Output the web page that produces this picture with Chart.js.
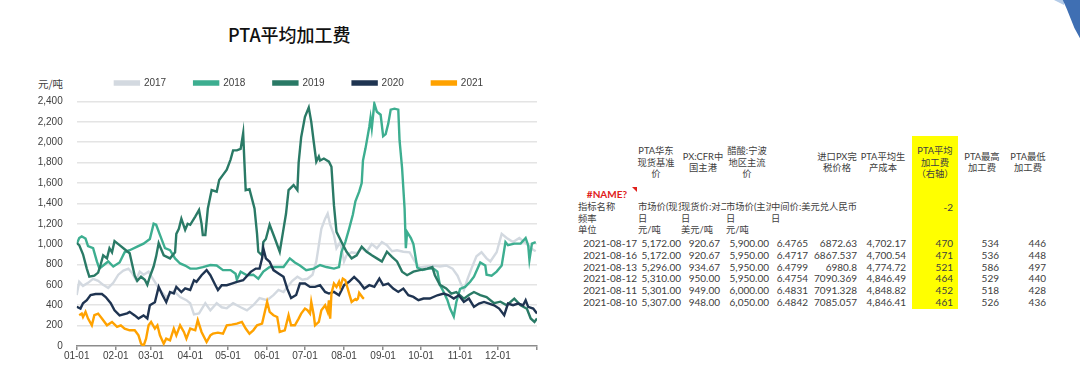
<!DOCTYPE html>
<html>
<head>
<meta charset="utf-8">
<script src="https://cdn.jsdelivr.net/npm/chart.js@4.4.1/dist/chart.umd.min.js"></script>
<style>
  body { margin: 0; width: 1080px; height: 369px; overflow: hidden; position: relative; background: #fff;
         font-family: Lato, "Noto Sans CJK SC", sans-serif; }
  #chart { position: absolute; left: 0; top: 0; }
  .title { position: absolute; left: 228px; top: 23px; font: 500 18px "Noto Sans CJK SC", sans-serif; color: #111; line-height: 22px; }
  .unit { position: absolute; left: 38px; top: 77px; font: 10.5px "Noto Sans CJK SC", sans-serif; color: #404040; line-height: 14px; }
  .c { position: absolute; white-space: nowrap; font-size: 10px; line-height: 12px; color: #404040;
       font-family: Lato, "Noto Sans CJK SC", sans-serif; }
  .h { font-size: 9.3px; }
  .clip { overflow: hidden; }
  .hl { position: absolute; left: 912px; top: 136px; width: 46px; height: 173px; background: #ffff00; }
  .err { color: #e0201b; font-weight: bold; }
  .mark { position: absolute; left: 632px; top: 187px; width: 0; height: 0;
          border-top: 5px solid #e0201b; border-left: 5px solid transparent; }
  .corner { position: absolute; left: 1040px; top: 0; width: 40px; height: 45px; background: #3f6fb3;
            clip-path: polygon(57% 0, 100% 0, 100% 85%, 86% 62%, 77% 42%, 67% 20%); }
  .corner2 { position: absolute; left: 1054px; top: 0; width: 10px; height: 5px; background: #b3cbe8;
             clip-path: polygon(0 0, 100% 0, 100% 100%); }
</style>
</head>
<body>
<div class="corner2"></div>
<div class="corner"></div>
<div class="title">PTA平均加工费</div>
<div class="unit">元/吨</div>
<canvas id="chart" width="545" height="369"></canvas>
<div id="table"></div>

<script>
// x 轴按一年中的第几天, 刻度在每月 1 号
const monthTicks = [0, 31, 59, 90, 120, 151, 181, 212, 243, 273, 304, 334, 365];
const monthLabels = ['01-01', '02-01', '03-01', '04-01', '05-01', '06-01', '07-01', '08-01', '09-01', '10-01', '11-01', '12-01', ''];
const years = ['2017', '2018', '2019', '2020', '2021'];

// [第几天, 元/吨]
const s2017 = [[0,500],[2,630],[5,590],[9,620],[13,660],[17,640],[21,600],[25,570],[29,620],[33,700],[37,740],[41,760],[44,715],[47,650],[50,730],[53,700],[57,730],[61,650],[66,550],[71,480],[77,540],[82,480],[87,450],[90,420],[93,310],[97,320],[102,420],[106,350],[111,420],[115,380],[119,370],[124,420],[130,380],[135,350],[140,400],[145,470],[151,450],[156,500],[160,550],[164,530],[167,580],[171,640],[175,680],[179,650],[183,660],[187,700],[190,830],[194,1150],[197,1250],[199,1300],[201,1190],[204,1090],[206,960],[209,1020],[212,830],[214,890],[218,920],[222,910],[226,960],[230,925],[234,1000],[238,960],[242,1020],[246,990],[250,930],[254,940],[259,925],[264,920],[268,830],[272,770],[277,780],[283,790],[288,780],[293,790],[298,760],[302,690],[305,600],[307,550],[310,660],[313,760],[317,880],[321,920],[325,860],[328,830],[333,920],[337,1100],[341,1060],[346,1020],[351,1060],[356,1010],[360,960],[364,930]];
const s2018 = [[0,1000],[2,1060],[4,1075],[7,1055],[9,980],[13,960],[16,830],[18,760],[21,790],[25,830],[29,780],[34,820],[38,920],[42,940],[48,975],[53,1005],[58,1050],[60,1150],[61,1200],[63,1190],[66,1090],[70,960],[74,940],[78,860],[82,810],[86,790],[90,760],[95,760],[100,775],[106,795],[111,790],[116,745],[122,745],[126,710],[127,650],[130,730],[135,695],[140,700],[144,660],[148,730],[153,775],[158,775],[164,775],[169,860],[173,820],[177,790],[182,745],[188,760],[193,795],[198,775],[204,760],[208,775],[210,925],[213,1020],[216,1150],[219,1290],[221,1420],[224,1515],[226,1600],[227,1820],[229,1940],[232,2150],[233,2240],[234,2140],[236,2380],[238,2300],[241,2270],[243,2060],[245,2080],[247,2180],[249,2320],[252,2330],[255,2320],[256,2020],[258,1750],[260,1350],[261,960],[262,1120],[265,1060],[267,1000],[270,770],[274,745],[279,760],[283,760],[286,730],[288,600],[291,530],[294,450],[296,370],[299,290],[301,430],[304,560],[308,580],[312,630],[315,680],[320,820],[324,790],[325,700],[329,690],[333,730],[337,790],[340,1020],[342,990],[347,1005],[352,1005],[356,1060],[358,990],[359,845],[361,1005],[364,1020]];
const s2019 = [[0,1010],[2,990],[5,900],[8,760],[10,680],[14,690],[17,720],[19,800],[21,890],[24,860],[26,960],[28,920],[30,1030],[34,990],[38,950],[42,910],[44,800],[46,690],[48,640],[51,680],[54,650],[56,600],[58,680],[61,780],[63,880],[65,1010],[67,950],[69,890],[74,860],[78,920],[79,1100],[81,1150],[83,1250],[86,1140],[88,1200],[90,1190],[94,1270],[97,1335],[99,1200],[100,1090],[102,1090],[104,1350],[107,1530],[111,1515],[113,1630],[116,1680],[119,1730],[122,1830],[124,1920],[127,1920],[130,1935],[132,2090],[133,1800],[134,1530],[137,1540],[141,1350],[143,1100],[144,925],[147,890],[148,1020],[150,1050],[153,1190],[157,1060],[161,925],[164,1150],[166,1300],[168,1530],[172,1580],[175,1530],[176,1800],[178,2050],[181,2250],[184,2340],[186,2200],[188,2000],[190,1810],[192,1860],[193,1820],[196,1840],[200,1810],[202,1760],[204,1380],[206,1120],[210,1020],[214,925],[218,860],[222,890],[226,975],[230,925],[234,890],[238,860],[242,830],[246,925],[250,875],[254,830],[258,730],[262,695],[267,730],[272,745],[278,760],[282,775],[284,695],[288,600],[293,565],[297,515],[301,530],[307,465],[311,500],[315,530],[320,500],[325,480],[331,420],[336,435],[341,400],[347,465],[352,400],[357,365],[360,270],[363,236],[365,270]];
const s2020 = [[0,385],[3,367],[5,420],[8,450],[11,500],[15,510],[20,510],[23,480],[27,420],[30,350],[34,300],[40,320],[42,335],[46,300],[49,270],[53,300],[56,270],[58,400],[62,430],[65,580],[68,500],[71,430],[74,530],[77,515],[79,580],[83,530],[86,565],[90,550],[93,645],[95,630],[99,695],[103,745],[106,695],[110,597],[112,550],[115,597],[119,597],[123,613],[127,630],[132,646],[138,728],[142,760],[145,760],[147,860],[148,958],[150,860],[153,827],[156,745],[160,712],[164,679],[167,560],[170,470],[174,500],[177,613],[181,613],[185,580],[189,580],[193,597],[197,531],[200,515],[204,531],[208,498],[212,597],[216,630],[220,679],[224,630],[228,564],[232,597],[236,580],[240,662],[243,597],[247,613],[251,564],[255,531],[259,564],[263,498],[267,482],[271,449],[275,466],[280,466],[286,498],[291,515],[295,498],[299,466],[303,498],[307,433],[311,466],[315,384],[319,417],[323,433],[327,417],[331,400],[335,367],[339,302],[342,417],[346,400],[350,417],[354,400],[356,450],[358,384],[362,367],[365,318]];
const s2021 = [[2,302],[4,318],[5,285],[7,335],[9,269],[12,203],[14,302],[17,318],[20,269],[24,203],[28,236],[32,187],[35,203],[38,171],[42,154],[46,154],[49,105],[51,23],[53,0],[55,72],[57,203],[59,236],[62,171],[64,203],[66,105],[69,23],[71,72],[74,56],[77,171],[79,105],[82,203],[85,138],[87,72],[90,171],[94,154],[96,253],[99,138],[103,39],[106,105],[108,121],[112,131],[116,121],[119,203],[123,210],[127,220],[131,236],[134,171],[137,121],[140,154],[143,203],[147,220],[151,433],[153,335],[156,302],[159,285],[161,138],[165,154],[168,302],[170,203],[173,203],[176,269],[178,318],[181,367],[183,351],[185,318],[186,433],[188,302],[189,203],[192,236],[194,351],[197,400],[199,335],[200,449],[201,269],[202,515],[204,613],[206,580],[208,630],[209,580],[211,662],[213,646],[216,515],[218,433],[221,461],[222,452],[223,464],[224,521],[227,471],[228,470]];

// 右边表格
const tblDates = ['2021-08-17', '2021-08-16', '2021-08-13', '2021-08-12', '2021-08-11', '2021-08-10'];
const ptaSpot = ['5,172.00', '5,172.00', '5,296.00', '5,310.00', '5,301.00', '5,307.00'];
const pxCfr = ['920.67', '920.67', '934.67', '950.00', '949.00', '948.00'];
const aceticAcid = ['5,900.00', '5,950.00', '5,950.00', '5,950.00', '6,000.00', '6,050.00'];
const usdCny = ['6.4765', '6.4717', '6.4799', '6.4754', '6.4831', '6.4842'];
const pxImport = ['6872.63', '6867.537', '6980.8', '7090.369', '7091.328', '7085.057'];
const ptaCost = ['4,702.17', '4,700.54', '4,774.72', '4,846.49', '4,848.82', '4,846.41'];
const ptaFee = [470, 471, 521, 464, 452, 461];
const ptaFeeMax = [534, 536, 586, 529, 518, 526];
const ptaFeeMin = [446, 448, 497, 440, 428, 436];

const colors = ['#d3d9e0', '#3dae90', '#2a7a66', '#1f3451', '#ffa200'];
const series = [s2017, s2018, s2019, s2020, s2021];

// 图例: 下面多留一点空, 整体往右挪一点
const legendTweak = {
    id: 'legendTweak',
    beforeInit(chart) {
        const fit = chart.legend.fit;
        chart.legend.fit = function () {
            fit.call(this);
            this.height += 3.5;
        };
    },
    afterLayout(chart) {
        chart.legend.left += 30.5;
        chart.legend.right += 30.5;
    }
};

new Chart(document.getElementById('chart'), {
    type: 'line',
    data: {
        datasets: years.map((y, i) => ({
            label: y,
            data: series[i].map(p => ({ x: p[0], y: p[1] })),
            borderColor: colors[i],
            backgroundColor: colors[i],
            borderWidth: 2.4,
            pointRadius: 0,
            tension: 0,
            order: 5 - i
        }))
    },
    options: {
        responsive: false,
        animation: false,
        layout: { padding: { left: 0, right: 8, top: 50, bottom: 0 } },
        plugins: {
            legend: {
                labels: {
                    boxWidth: 24, boxHeight: 3, padding: 28, color: '#404040',
                    font: { size: 10, family: 'Liberation Sans' },
                    sort: (a, b) => a.datasetIndex - b.datasetIndex
                }
            },
            tooltip: { enabled: false }
        },
        scales: {
            x: {
                type: 'linear', min: 0, max: 365,
                afterBuildTicks: s => { s.ticks = monthTicks.map(v => ({ value: v })); },
                afterFit: s => { s.height = 23; },
                ticks: {
                    autoSkip: false, maxRotation: 0, padding: 0, color: '#404040',
                    font: { size: 10, family: 'Liberation Sans' },
                    callback: v => monthLabels[monthTicks.indexOf(v)]
                },
                grid: { drawOnChartArea: false, drawTicks: true, tickLength: 4, color: '#8c8c8c', lineWidth: 1.5 },
                border: { display: true, color: '#8c8c8c', width: 1.5 }
            },
            y: {
                min: 0, max: 2400,
                afterFit: s => { s.width = 76.7; },
                ticks: {
                    stepSize: 200, padding: 14, color: '#404040',
                    font: { size: 10, family: 'Liberation Sans' },
                    callback: v => v.toLocaleString('en-US')
                },
                grid: {
                    color: c => c.tick.value === 0 ? 'rgba(0,0,0,0)' : '#e4e4e4',
                    lineWidth: 1.6, drawTicks: false
                },
                border: { display: false }
            }
        }
    },
    plugins: [legendTweak]
});

// 表格: 用绝对定位的小格子
const table = document.getElementById('table');
function cell(text, x, y, align, cls, clipW) {
    const d = document.createElement('div');
    d.className = 'c' + (cls ? ' ' + cls : '');
    d.textContent = text;
    d.style.top = (y - 6) + 'px';
    if (align === 'r') {
        d.style.right = (1080 - x) + 'px';
    } else if (align === 'c') {
        d.style.left = x + 'px';
        d.style.transform = 'translateX(-50%)';
    } else {
        d.style.left = x + 'px';
    }
    if (clipW) {
        d.classList.add('clip');
        d.style.width = clipW + 'px';
    }
    table.appendChild(d);
}

const hl = document.createElement('div');
hl.className = 'hl';
table.appendChild(hl);

const heads = [
    [656, ['PTA华东', '现货基准', '价']],
    [703, ['PX:CFR中', '国主港']],
    [747, ['醋酸:宁波', '地区主流', '价']],
    [837, ['进口PX完', '税价格']],
    [883, ['PTA平均生', '产成本']],
    [935, ['PTA平均', '加工费', '（右轴）']],
    [982, ['PTA最高', '加工费']],
    [1028, ['PTA最低', '加工费']]
];
heads.forEach(([x, lines]) => {
    const y0 = lines.length === 3 ? 151 : 156.5;
    lines.forEach((t, k) => cell(t, x, y0 + k * 11.5, 'c', 'h'));
});

cell('#NAME?', 607, 193.5, 'c', 'err');
const mk = document.createElement('div');
mk.className = 'mark';
table.appendChild(mk);

cell('指标名称', 578, 206.5, 'l', 'h');
cell('频率', 578, 218.5, 'l', 'h');
cell('单位', 578, 230, 'l', 'h');

cell('市场价(现货)', 638, 206.5, 'l', 'h', 43);
cell('现货价:对二甲苯', 681, 206.5, 'l', 'h', 45);
cell('市场价(主流)', 726, 206.5, 'l', 'h', 45);
cell('中间价:美元兑人民币', 771, 206.5, 'l', 'h');
cell('-2', 953, 206.5, 'r');

[638, 681, 726, 771].forEach(x => cell('日', x, 218.5, 'l', 'h'));
cell('元/吨', 638, 230, 'l', 'h');
cell('美元/吨', 681, 230, 'l', 'h');
cell('元/吨', 726, 230, 'l', 'h');

const rowY = [243.3, 255, 266.7, 278.4, 290, 301.7];
const cols = [
    [637, tblDates], [681, ptaSpot], [720, pxCfr], [769, aceticAcid], [808, usdCny],
    [857, pxImport], [906, ptaCost], [953, ptaFee], [999, ptaFeeMax], [1046, ptaFeeMin]
];
cols.forEach(([x, vals]) => vals.forEach((v, r) => cell(String(v), x, rowY[r], 'r')));
</script>
</body>
</html>
